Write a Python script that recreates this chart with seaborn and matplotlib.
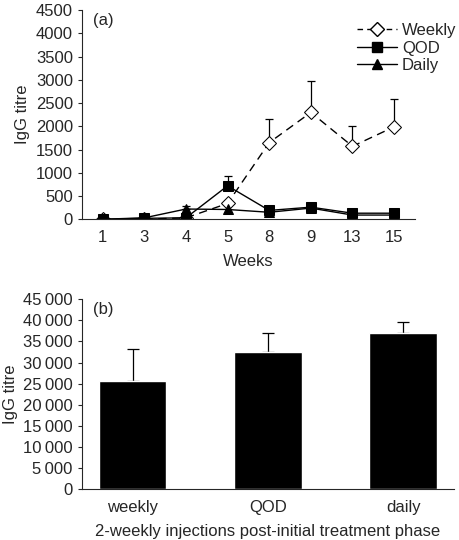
import numpy as np
import pandas as pd
import seaborn as sns
import matplotlib.pyplot as plt
from matplotlib.lines import Line2D

# panel (a)
weeks = ["1", "3", "4", "5", "8", "9", "13", "15"]
weekly = [0, 0, 30, 340, 1650, 2300, 1570, 1990]
weekly_err = [0, 0, 0, 60, 500, 680, 430, 600]
qod = [0, 20, 30, 720, 190, 260, 130, 130]
qod_err = [0, 0, 0, 220, 0, 0, 0, 0]
daily = [0, 30, 220, 210, 150, 240, 90, 90]
daily_err = [0, 0, 70, 0, 0, 0, 0, 0]

# panel (b)
groups = ["weekly", "QOD", "daily"]
bar_vals = [25600, 32400, 37100]
bar_err = [7700, 4600, 2600]

sns.set_style("ticks")
plt.rcParams["font.family"] = ["Liberation Sans", "DejaVu Sans"]
plt.rcParams["font.size"] = 12

fig = plt.figure(figsize=(4.6, 5.4), dpi=100)
ax1 = fig.add_axes([0.178, 0.594, 0.724, 0.387])
ax2 = fig.add_axes([0.178, 0.094, 0.809, 0.352])

df = pd.DataFrame({
    "week": weeks * 3,
    "titre": weekly + qod + daily,
    "group": ["Weekly"] * 8 + ["QOD"] * 8 + ["Daily"] * 8,
})

sns.pointplot(data=df, x="week", y="titre", hue="group", order=weeks,
              hue_order=["Weekly", "Daily", "QOD"], palette=["black"] * 3,
              markers=["D", "^", "s"], linestyles=["--", "-", "-"],
              errorbar=None, ax=ax1, legend=False,
              markersize=7, linewidth=1)

# open diamonds for the weekly series
for line in ax1.lines:
    if line.get_marker() == "D":
        line.set_markerfacecolor("white")
        line.set_markeredgecolor("black")
        line.set_dashes([6, 4])

pos = np.arange(len(weeks))
for vals, errs in [(weekly, weekly_err), (qod, qod_err), (daily, daily_err)]:
    e = np.array(errs)
    m = e > 0
    ax1.errorbar(pos[m], np.array(vals)[m], yerr=[np.zeros(m.sum()), e[m]],
                 fmt="none", ecolor="black", elinewidth=0.9, capsize=3,
                 capthick=0.9, zorder=1)

ax1.set_ylim(0, 4500)
ax1.set_yticks(range(0, 4501, 500))
ax1.set_xlim(-0.5, 7.5)
ax1.set_xlabel("Weeks", labelpad=6)
ax1.set_ylabel("IgG titre")
ax1.tick_params(axis="x", length=0, pad=8)
ax1.tick_params(axis="y", length=3, width=0.8, direction="out")
ax1.text(0.033, 0.985, "(a)", transform=ax1.transAxes, ha="left", va="top")
sns.despine(ax=ax1)

handles = [
    Line2D([], [], color="black", lw=1, ls="--", marker="D", markersize=7,
           markerfacecolor="white", dashes=[4, 3]),
    Line2D([], [], color="black", lw=1, marker="s", markersize=7),
    Line2D([], [], color="black", lw=1, marker="^", markersize=7),
]
ax1.legend(handles, ["Weekly", "QOD", "Daily"], loc="upper right",
           bbox_to_anchor=(1.145, 0.97), frameon=False, handlelength=2.4,
           handletextpad=0.3, labelspacing=0.15, borderaxespad=0)

bdf = pd.DataFrame({"group": groups, "titre": bar_vals})
sns.barplot(data=bdf, x="group", y="titre", color="black", width=0.5,
            errorbar=None, ax=ax2, saturation=1)
ax2.errorbar(np.arange(3), bar_vals, yerr=[np.zeros(3), bar_err], fmt="none",
             ecolor="black", elinewidth=0.9, capsize=4, capthick=0.9, zorder=0)
ax2.set_ylim(0, 45000)
ax2.set_yticks(range(0, 45001, 5000))
ax2.set_yticklabels([f"{v:,}".replace(",", "\u2009") for v in range(0, 45001, 5000)])
ax2.set_xlabel("2-weekly injections post-initial treatment phase", labelpad=6)
ax2.set_ylabel("IgG titre")
ax2.tick_params(axis="x", length=0, pad=8)
ax2.tick_params(axis="y", length=3, width=0.8, direction="out")
ax2.text(0.03, 0.985, "(b)", transform=ax2.transAxes, ha="left", va="top")
sns.despine(ax=ax2)

fig.savefig("out.png", dpi=100)
